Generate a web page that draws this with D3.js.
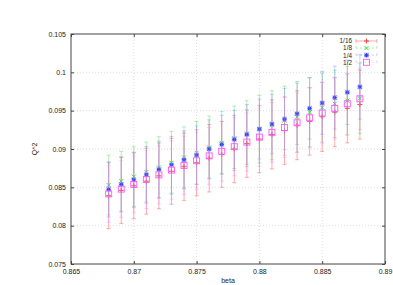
<!DOCTYPE html>
<html><head><meta charset="utf-8">
<script src="https://cdn.jsdelivr.net/npm/d3@7"></script>
<style>body{margin:0;background:#fff}svg{display:block}text{font-family:"Liberation Sans",Arial,sans-serif}</style>
</head><body><svg id="c" width="393" height="285"></svg>
<script>
const beta = [0.868,0.869,0.870,0.871,0.872,0.873,0.874,0.875,0.876,0.877,0.878,0.879,0.880,0.881,0.882,0.883,0.884,0.885,0.886,0.887,0.888];
const q16 = [0.0839,0.0846,0.0852,0.0858,0.0865,0.0871,0.0877,0.0882,0.0888,0.0893,0.0900,0.0907,0.0913,0.0919,0.0924,0.0931,0.0936,0.0942,0.0948,0.0953,0.0958];
const e16 = [0.0043,0.0043,0.0043,0.0043,0.0043,0.0043,0.0044,0.0043,0.0044,0.0043,0.0044,0.0044,0.0044,0.0045,0.0044,0.0045,0.0044,0.0045,0.0045,0.0045,0.0045];
const q8 = [0.0853,0.0858,0.0864,0.0870,0.0876,0.0882,0.0889,0.0895,0.0902,0.0908,0.0914,0.0920,0.0926,0.0931,0.0937,0.0942,0.0948,0.0954,0.0959,0.0963,0.0966];
const e8 = [0.0039,0.0039,0.0039,0.0039,0.0040,0.0041,0.0040,0.0041,0.0041,0.0041,0.0042,0.0043,0.0044,0.0045,0.0045,0.0046,0.0045,0.0045,0.0044,0.0045,0.0046];
const q4 = [0.08473,0.08538,0.08598,0.08663,0.08734,0.08794,0.08859,0.0892,0.0900,0.0906,0.09125,0.0919,0.0926,0.09325,0.0939,0.0946,0.0953,0.0960,0.0967,0.0974,0.0981];
const e4 = [0.0036,0.0036,0.0036,0.0037,0.0037,0.0037,0.0038,0.0038,0.0038,0.0038,0.0038,0.0039,0.0039,0.0039,0.0040,0.0040,0.0040,0.0041,0.0041,0.0042,0.0042];
const q2 = [0.08415,0.08477,0.08538,0.08603,0.08663,0.08725,0.08786,0.08846,0.0891,0.0897,0.0903,0.0909,0.09155,0.09217,0.0928,0.09342,0.09407,0.09469,0.0953,0.0959,0.09655];
const e2 = [0.0037,0.0037,0.0037,0.0038,0.0038,0.0038,0.0038,0.0037,0.0037,0.0039,0.0038,0.0038,0.0038,0.0039,0.0039,0.0039,0.0039,0.0040,0.0040,0.0040,0.0040];
const seriesNames = ["1/16","1/8","1/4","1/2"];
const xTicks = [0.865,0.87,0.875,0.88,0.885,0.89];
const xTickLabels = ["0.865","0.87","0.875","0.88","0.885","0.89"];
const yTicks = [0.075,0.08,0.085,0.09,0.095,0.1,0.105];
const yTickLabels = ["0.075","0.08","0.085","0.09","0.095","0.1","0.105"];

const series = [
  {name:seriesNames[0], q:q16, e:e16, color:"#ff3030", bar:"rgba(255,70,70,0.45)", mark:"plus", dash:null},
  {name:seriesNames[1], q:q8, e:e8, color:"#22dd22", bar:"rgba(60,220,60,0.4)", mark:"cross", dash:"2,2"},
  {name:seriesNames[2], q:q4, e:e4, color:"#2233ee", bar:"rgba(110,130,255,0.38)", mark:"star", dash:"2,2"},
  {name:seriesNames[3], q:q2, e:e2, color:"#ff55ff", bar:"rgba(255,130,255,0.42)", mark:"square", dash:"2,2"}
];

const L=71, R=385, T=34, B=264;
const x = d3.scaleLinear().domain([0.865,0.89]).range([L,R]);
const y = d3.scaleLinear().domain([0.075,0.105]).range([B,T]);
const svg = d3.select("#c");

// grid
const g = svg.append("g");
g.selectAll("line.gx").data(xTicks.slice(1,-1)).enter().append("line")
  .attr("x1",d=>x(d)).attr("x2",d=>x(d)).attr("y1",T).attr("y2",B)
  .attr("stroke","#cfcfcf").attr("stroke-width",0.7).attr("stroke-dasharray","1,2");
g.selectAll("line.gy").data(yTicks.slice(1,-1)).enter().append("line")
  .attr("x1",L).attr("x2",R).attr("y1",d=>y(d)).attr("y2",d=>y(d))
  .attr("stroke","#cfcfcf").attr("stroke-width",0.7).attr("stroke-dasharray","1,2");

// axes
const fs = "7px";
const axB = d3.axisBottom(x).tickValues(xTicks).tickFormat((d,i)=>xTickLabels[i]).tickSizeInner(-3).tickSizeOuter(0).tickPadding(5);
const axT = d3.axisTop(x).tickValues(xTicks).tickFormat("").tickSizeInner(-3).tickSizeOuter(0);
const axL = d3.axisLeft(y).tickValues(yTicks).tickFormat((d,i)=>yTickLabels[i]).tickSizeInner(-3).tickSizeOuter(0).tickPadding(5);
const axR = d3.axisRight(y).tickValues(yTicks).tickFormat("").tickSizeInner(-3).tickSizeOuter(0);
function style(sel){sel.select(".domain").remove();sel.selectAll("line").attr("stroke","#444");sel.selectAll("text").attr("fill","#222").style("font-size",fs).style("font-family","Liberation Sans, Arial, sans-serif");}
svg.append("g").attr("transform",`translate(0,${B})`).call(axB).call(style);
svg.append("g").attr("transform",`translate(0,${T})`).call(axT).call(style);
svg.append("g").attr("transform",`translate(${L},0)`).call(axL).call(style);
svg.append("g").attr("transform",`translate(${R},0)`).call(axR).call(style);
svg.append("rect").attr("x",L).attr("y",T).attr("width",R-L).attr("height",B-T).attr("fill","none").attr("stroke","#444").attr("stroke-width",1);

svg.append("text").attr("x",228).attr("y",283).attr("text-anchor","middle").style("font-size",fs).attr("fill","#222").text("beta");
svg.append("text").attr("transform","translate(37,149) rotate(-90)").attr("text-anchor","middle").style("font-size",fs).attr("fill","#222").text("Q^2");

function marker(sel, type, color){
  if(type==="plus"){
    sel.append("path").attr("d","M-2.5,0H2.5M0,-2.5V2.5").attr("stroke",color).attr("stroke-width",0.9);
  } else if(type==="cross"){
    sel.append("path").attr("d","M-2,-2L2,2M-2,2L2,-2").attr("stroke",color).attr("stroke-width",0.9);
  } else if(type==="star"){
    sel.append("rect").attr("x",-2.5).attr("y",-2.5).attr("width",5).attr("height",5).attr("fill","rgba(150,160,255,0.55)");
    sel.append("path").attr("d","M-2,0H2M0,-2V2M-1.6,-1.6L1.6,1.6M-1.6,1.6L1.6,-1.6").attr("stroke",color).attr("stroke-width",1);
  } else {
    sel.append("rect").attr("x",-3).attr("y",-3).attr("width",6).attr("height",6).attr("fill","none").attr("stroke",color).attr("stroke-width",0.9);
  }
}

const plot = svg.append("g");
series.forEach(s=>{
  const gs = plot.append("g");
  const pts = beta.map((b,i)=>({b, q:s.q[i], e:s.e[i]}));
  gs.selectAll("path.eb").data(pts).enter().append("path")
    .attr("d",d=>{const xx=x(d.b), y1=y(d.q-d.e), y2=y(d.q+d.e);
      return `M${xx},${y1}V${y2}M${xx-2},${y1}H${xx+2}M${xx-2},${y2}H${xx+2}`;})
    .attr("stroke",s.bar).attr("stroke-width",1).attr("fill","none");
  gs.selectAll("g.m").data(pts).enter().append("g")
    .attr("transform",d=>`translate(${x(d.b)},${y(d.q)})`)
    .each(function(){marker(d3.select(this), s.mark, s.color);});
});

// legend
const lg = svg.append("g");
series.forEach((s,i)=>{
  const yy = 41 + i*7.1;
  lg.append("text").attr("x",352).attr("y",yy+2.3).attr("text-anchor","end").style("font-size","6.4px").attr("fill","#222").text(s.name);
  lg.append("path").attr("d",`M356,${yy}H377M356,${yy-2}V${yy+2}M377,${yy-2}V${yy+2}`)
    .attr("stroke",s.bar).attr("stroke-width",1).attr("stroke-dasharray",s.dash);
  marker(lg.append("g").attr("transform",`translate(366.5,${yy})`), s.mark, s.color);
});
</script></body></html>
